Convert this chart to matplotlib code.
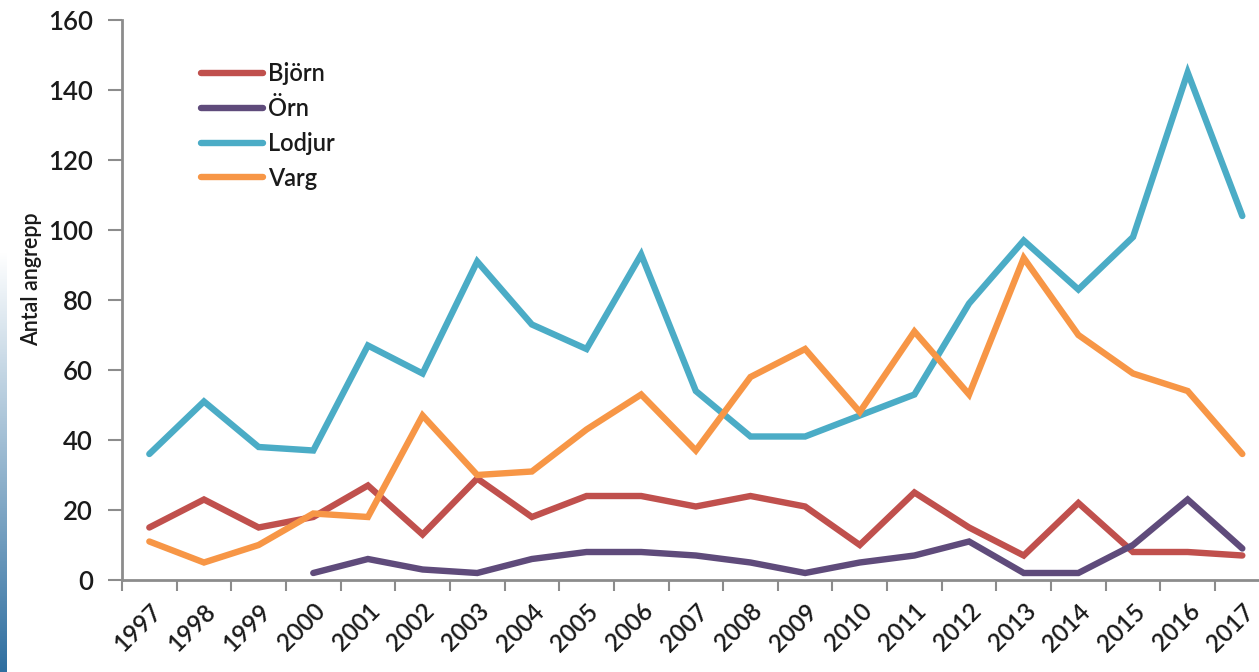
import matplotlib
matplotlib.use("Agg")
import matplotlib.pyplot as plt
import numpy as np
from matplotlib.ticker import FixedLocator, NullFormatter

years = [str(y) for y in range(1997, 2018)]
bjorn = [15, 23, 15, 18, 27, 13, 29, 18, 24, 24, 21, 24, 21, 10, 25, 15, 7, 22, 8, 8, 7]
orn = [None, None, None, 2, 6, 3, 2, 6, 8, 8, 7, 5, 2, 5, 7, 11, 2, 2, 10, 23, 9]
lodjur = [36, 51, 38, 37, 67, 59, 91, 73, 66, 93, 54, 41, 41, 47, 53, 79, 97, 83, 98, 145, 104]
varg = [11, 5, 10, 19, 18, 47, 30, 31, 43, 53, 37, 58, 66, 48, 71, 53, 92, 70, 59, 54, 36]

series = [("Björn", bjorn, "#c0504d"), ("Örn", orn, "#5f4b7b"),
          ("Lodjur", lodjur, "#4bacc6"), ("Varg", varg, "#f79646")]

FONT = ["Lato", "DejaVu Sans"]
INK = "#1a1a1a"
W, H = 1259, 672
fig = plt.figure(figsize=(W / 100, H / 100), dpi=100)
ax = fig.add_axes([122 / W, 1 - 580 / H, (W - 122) / W, 560 / H])

x = np.arange(len(years))
for name, vals, col in series:
    v = np.array([np.nan if a is None else a for a in vals], dtype=float)
    ax.plot(x, v, color=col, lw=4.6, label=name, solid_capstyle="round", solid_joinstyle="miter")

step = 54.65
ax.set_xlim(-0.5, -0.5 + (W - 122) / step)
ax.set_ylim(0, 160)
ax.set_yticks(range(0, 161, 20))
ax.tick_params(axis="y", length=10, width=1.5, color="#8c8c8c", labelsize=18.5, pad=11,
               labelcolor=INK)
for t in ax.get_yticklabels():
    t.set_fontfamily(FONT)
    t.set_fontweight("semibold")

ax.xaxis.set_major_locator(FixedLocator(np.arange(-0.5, 20.6, 1)))
ax.xaxis.set_major_formatter(NullFormatter())
ax.xaxis.set_minor_locator(FixedLocator(x))
ax.set_xticklabels(years, minor=True, rotation=45, ha="right", rotation_mode="anchor",
                   fontsize=17.5, family=FONT, fontweight="semibold", color=INK)
ax.tick_params(axis="x", which="major", length=8, width=1.5, color="#8c8c8c")
ax.tick_params(axis="x", which="minor", length=0, pad=14)

for s in ("top", "right"):
    ax.spines[s].set_visible(False)
for s in ("left", "bottom"):
    ax.spines[s].set_color("#8c8c8c")
    ax.spines[s].set_linewidth(2)

ax.set_ylabel("Antal angrepp", fontsize=15.5, color=INK, family=FONT, fontweight="semibold")
ax.yaxis.set_label_coords(-80 / (W - 122), (580 - 279) / 560)

leg = ax.legend(loc="upper left", bbox_to_anchor=(180 / W, 1 - 41 / H), bbox_transform=fig.transFigure,
                frameon=False, handlelength=2.63, handletextpad=0.2, labelspacing=0.5,
                prop={"family": FONT, "size": 17, "weight": "semibold"})
for t in leg.get_texts():
    t.set_color(INK)

# blue gradient strip on the left edge
grad = np.linspace(0, 1, 256).reshape(-1, 1)
gax = fig.add_axes([0, 0, 7 / W, 420 / H])
gax.imshow(grad, aspect="auto", cmap=matplotlib.colors.LinearSegmentedColormap.from_list(
    "g", ["#2f6fa0", "#ffffff"]), origin="lower")
gax.axis("off")

fig.savefig("out.png", dpi=100)
